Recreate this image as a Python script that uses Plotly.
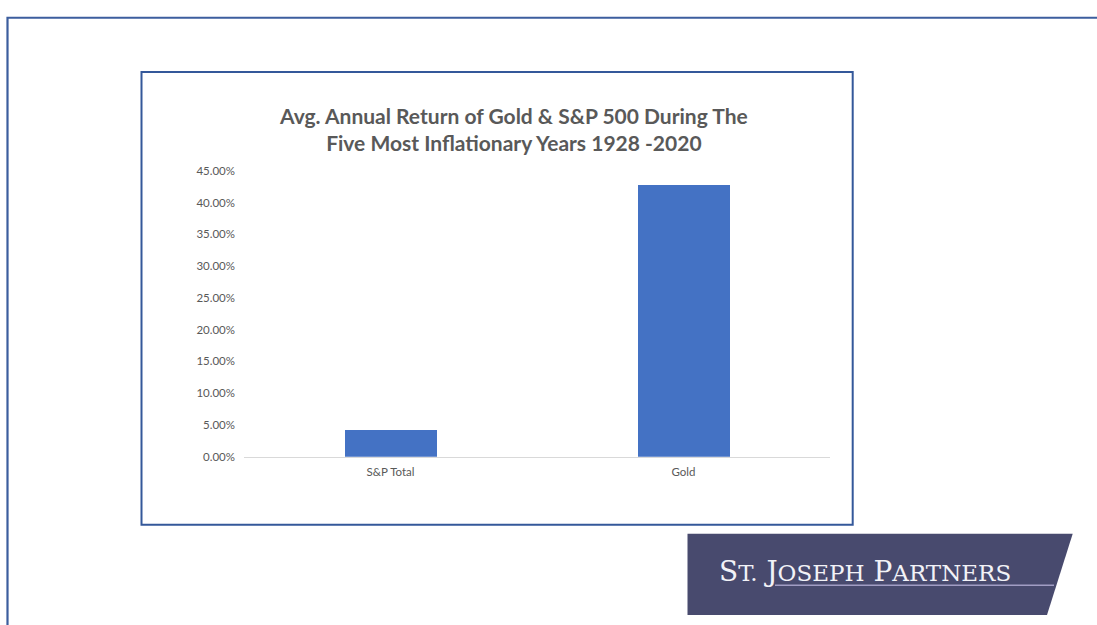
import plotly.graph_objects as go

categories = ["S&P Total", "Gold"]
returns = [0.0416, 0.4273]
tick_vals = [0, 0.05, 0.10, 0.15, 0.20, 0.25, 0.30, 0.35, 0.40, 0.45]
tick_text = ["0.00%", "5.00%", "10.00%", "15.00%", "20.00%", "25.00%", "30.00%", "35.00%", "40.00%", "45.00%"]
title_lines = ["Avg. Annual Return of Gold & S&P 500 During The", "Five Most Inflationary Years 1928 -2020"]

W, H = 1097, 625


def px(x):
    return x / W


def py(y):
    return 1 - y / H


fig = go.Figure()
fig.add_trace(go.Bar(
    x=categories, y=returns, width=0.314,
    marker=dict(color="#4472C4", line=dict(width=0)),
    hoverinfo="skip",
))

fig.update_layout(
    width=W, height=H,
    margin=dict(l=0, r=0, t=0, b=0),
    paper_bgcolor="white", plot_bgcolor="white",
    showlegend=False,
    font=dict(family="Lato", color="#595959"),
    xaxis=dict(
        domain=[px(244), px(830)],
        showline=True, linecolor="#D9D9D9", linewidth=1.3,
        showgrid=False, zeroline=False, ticks="",
        tickfont=dict(size=11.5, color="#595959", family="Lato"),
        ticklabelstandoff=4,
    ),
    yaxis=dict(
        domain=[py(459.3), py(167.3)],
        range=[0, 0.45],
        tickvals=tick_vals, ticktext=tick_text,
        showline=False, showgrid=False, zeroline=False, ticks="",
        tickfont=dict(size=11.5, color="#595959", family="Lato"),
        ticklabelstandoff=8,
    ),
    bargap=0,
)

shapes = []
# outer slide border
shapes.append(dict(type="rect", xref="paper", yref="paper",
                   x0=px(7.5), x1=px(1110), y0=py(11), y1=py(640),
                   line=dict(color="#3C5E9E", width=2.2), fillcolor="rgba(0,0,0,0)", layer="above"))
# chart box border
shapes.append(dict(type="rect", xref="paper", yref="paper",
                   x0=px(141.5), x1=px(852.7), y0=py(66.3), y1=py(528.8),
                   line=dict(color="#34589A", width=2), fillcolor="rgba(0,0,0,0)", layer="above"))
# logo parallelogram
path = "M {},{} L {},{} L {},{} L {},{} Z".format(
    px(687.5), py(538), px(1072.7), py(538), px(1047), py(621), px(687.5), py(621))
shapes.append(dict(type="path", xref="paper", yref="paper", path=path,
                   fillcolor="#484A6E", line=dict(width=0), layer="above"))
# logo underline
shapes.append(dict(type="line", xref="paper", yref="paper",
                   x0=px(775), x1=px(1054), y0=py(590.5), y1=py(590.5),
                   line=dict(color="#A19DC4", width=1.5), layer="above"))
fig.update_layout(shapes=shapes)

fig.add_annotation(
    xref="paper", yref="paper", x=px(513), y=py(124.5),
    text="<b>" + title_lines[0] + "</b><br><b>" + title_lines[1] + "</b>",
    showarrow=False, xanchor="center", yanchor="middle", align="center",
    font=dict(family="Lato", size=21, color="#595959"),
)

big = 28
small = 23
logo_text = (
    "<span style='font-size:{b}px'>S</span><span style='font-size:{s}px'>T.</span> "
    "<span style='font-size:{b}px'>J</span><span style='font-size:{s}px'>OSEPH</span> "
    "<span style='font-size:{b}px'>P</span><span style='font-size:{s}px'>ARTNERS</span>"
).format(b=big, s=small)
fig.add_annotation(
    xref="paper", yref="paper", x=px(717), y=py(577),
    text=logo_text, showarrow=False, xanchor="left", yanchor="middle",
    font=dict(family="DejaVu Serif", size=big, color="#F2F2F7"),
)

post = (
    "document.documentElement.style.margin='0';"
    "document.documentElement.style.overflow='hidden';"
    "document.body.style.margin='0';"
    "document.body.style.overflow='hidden';"
    "var gd=document.getElementsByClassName('plotly-graph-div')[0];"
    "gd.style.position='fixed';gd.style.top='0px';gd.style.left='0px';"
)

fig.write_html("out.html", config={"displayModeBar": False}, post_script=post)
